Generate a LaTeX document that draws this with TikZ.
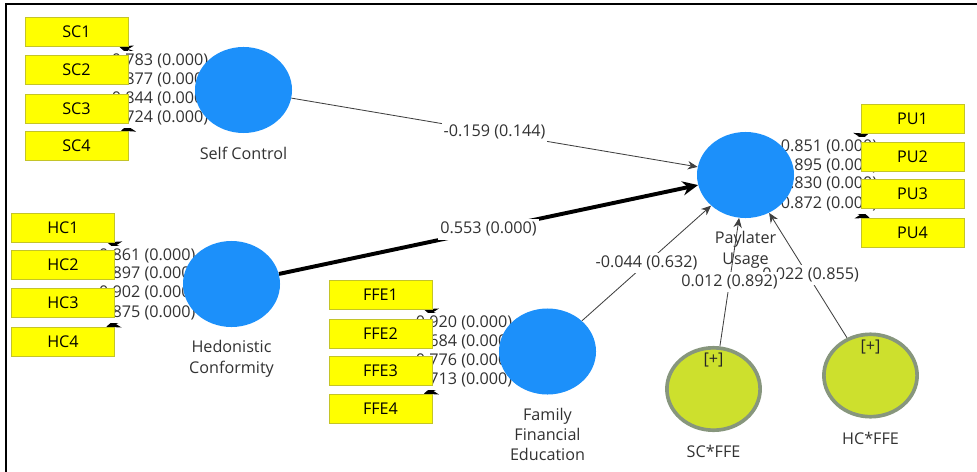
\documentclass[tikz,border=0pt]{standalone}
\usepackage{fontspec}
\setmainfont{Open Sans}
\usepackage{xcolor}
\usepackage{tikz}
\usetikzlibrary{arrows.meta,shapes.geometric}

\definecolor{lvblue}{RGB}{28,144,250}
\definecolor{indyellow}{RGB}{255,255,0}
\definecolor{indedge}{RGB}{196,196,40}
\definecolor{modfill}{RGB}{205,224,45}
\definecolor{modedge}{RGB}{135,150,125}
\definecolor{txtgray}{RGB}{50,50,50}

\pgfdeclarelayer{edges}
\pgfdeclarelayer{weights}
\pgfsetlayers{edges,weights,main}

\begin{document}
\begin{tikzpicture}[
  x=0.025cm, y=-0.025cm,
  font=\fontsize{11.5}{14.4}\selectfont,
  text=txtgray,
  lv/.style={ellipse, fill=lvblue, minimum width=2.425cm, minimum height=2.15cm,
             inner sep=0pt},
  mod/.style={ellipse, fill=modfill, draw=modedge, line width=2.6pt,
              minimum width=2.33cm, minimum height=2.06cm, inner sep=0pt},
  cname/.style={align=center, yshift=-6pt},
  ind/.style={draw=indedge, fill=indyellow, minimum width=2.575cm,
              minimum height=0.725cm, inner sep=0pt, text=black},
  loadarr/.style={draw=black, line width=0.7pt, -{Stealth[length=10pt,width=8pt]}},
  patharr/.style={draw=black!75, line width=0.6pt, -{Stealth[length=7pt,width=6pt]}},
  wt/.style={fill=white, inner sep=1.5pt, text height=8.8pt, text depth=2.6pt},
]
\useasboundingbox (0,0) rectangle (977,472);

%─── Frame ───────────────────────────────────────────────────────────────────
\draw[line width=1.4pt] (6,472) -- (6,4) -- (977,4);

%─── Indicators ──────────────────────────────────────────────────────────────
\foreach \i/\y in {1/31.5, 2/69.5, 3/108.5, 4/145.5}
  \node[ind] (sc\i) at (76.5,\y) {SC\i};
\foreach \i/\y in {1/227.5, 2/264.5, 3/302.5, 4/341.5}
  \node[ind] (hc\i) at (63,\y) {HC\i};
\foreach \i/\y in {1/294.5, 2/333.5, 3/370.5, 4/408.5}
  \node[ind] (ffe\i) at (380.5,\y) {FFE\i};
\foreach \i/\y in {1/119, 2/156.5, 3/194, 4/232.5}
  \node[ind] (pu\i) at (912.5,\y) {PU\i};

%─── Constructs ──────────────────────────────────────────────────────────────
\node[lv, label={[cname]below:Self Control}] (sc) at (243.5,90) {};
\node[lv, label={[cname]below:Hedonistic\\Conformity}] (hc) at (231.5,284) {};
\node[lv, label={[cname]below:Family\\Financial\\Education}] (ffe) at (547.5,351.5) {};
\node[lv, label={[cname]below:Paylater\\Usage}] (pu) at (745.5,175) {};

% moderators
\node[mod, label={[cname]below:SC*FFE},
      label={[anchor=north, text=black!85, yshift=-1.5pt]north:{[+]}}] (scffe) at (713.5,389) {};
\node[mod, label={[cname]below:HC*FFE},
      label={[anchor=north, text=black!85, yshift=-1.5pt]north:{[+]}}] (hcffe) at (870.5,375.5) {};

%─── Arrows ──────────────────────────────────────────────────────────────────
\begin{pgfonlayer}{edges}
  \foreach \n in {sc,hc,ffe,pu}
    \foreach \i in {1,...,4}
      \draw[loadarr] (\n) -- (\n\i);

  \draw[patharr] (sc) -- (pu);
  \draw[draw=black, line width=2.8pt, -{Stealth[length=11pt,width=10pt]}] (hc) -- (pu);
  \draw[patharr] (ffe) -- (pu);
  \draw[patharr] (scffe) -- (pu);
  \draw[patharr] (hcffe) -- (pu);
\end{pgfonlayer}

%─── Weights and loadings ────────────────────────────────────────────────────
\begin{pgfonlayer}{weights}
  \foreach \i/\v in {1/0.783, 2/0.877, 3/0.844, 4/0.724}
    \path (sc.center) -- (sc\i.center) node[wt, midway] {\v\ (0.000)};
  \foreach \i/\v in {1/0.861, 2/0.897, 3/0.902, 4/0.875}
    \path (hc.center) -- (hc\i.center) node[wt, midway] {\v\ (0.000)};
  \foreach \i/\v in {1/0.920, 2/0.684, 3/0.776, 4/0.713}
    \path (ffe.center) -- (ffe\i.center) node[wt, midway] {\v\ (0.000)};
  \foreach \i/\v in {1/0.851, 2/0.895, 3/0.830, 4/0.872}
    \path (pu.center) -- (pu\i.center) node[wt, midway] {\v\ (0.000)};

  \path (sc.center) -- (pu.center) node[wt, midway] {-0.159 (0.144)};
  \path (hc.center) -- (pu.center) node[wt, midway] {0.553 (0.000)};
  \path (ffe.center) -- (pu.center) node[wt, midway] {-0.044 (0.632)};
  \path (hcffe.center) -- (pu.center) node[wt, midway] {-0.022 (0.855)};
  \path (scffe.center) -- (pu.center) node[wt, midway] {0.012 (0.892)};
\end{pgfonlayer}

\end{tikzpicture}
\end{document}
